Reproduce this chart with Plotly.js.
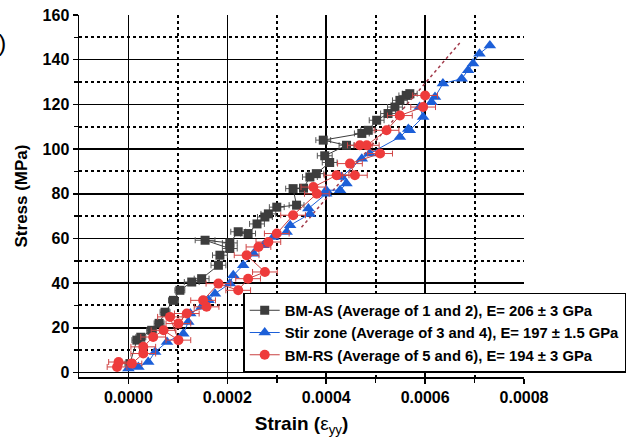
<!DOCTYPE html>
<html>
<head>
<meta charset="utf-8">
<script src="https://cdn.plot.ly/plotly-3.0.1.min.js"></script>
<style>html,body{margin:0;padding:0;background:#fff;}#chart{width:636px;height:444px;}</style>
</head>
<body>
<div id="chart"></div>
<script>
// BM-AS (black squares)
var asStrain = [0.000003,0.000017,0.000025,0.000047,0.000062,0.000074,0.000091,0.000104,0.000128,0.000148,0.000182,0.000185,0.000205,0.000155,0.000205,0.000222,0.000242,0.000260,0.000276,0.000283,0.000300,0.000340,0.000333,0.000354,0.000367,0.000380,0.000407,0.000397,0.000441,0.000394,0.000472,0.000485,0.000502,0.000525,0.000539,0.000549,0.000562,0.000569];
var asStress = [4,14.5,15.8,18.9,22,27,32.3,36.8,40.5,42,48,52.5,55.5,59.2,58,63,62.2,66.5,69.6,71,74,74.9,82.3,82.5,87.5,89,94,97,101.7,104,107,108.4,112.9,115.9,118.8,121.8,124,124.8];
var asErr = [0.00001,0.00001,0.00001,0.00001,0.00001,0.00001,0.00001,0.00001,0.000015,0.000015,0.000015,0.000015,0.000015,0.00002,0.000015,0.000015,0.000015,0.000015,0.000015,0.000015,0.000015,0.000015,0.000015,0.000015,0.000015,0.000015,0.000015,0.000015,0.000015,0.000015,0.000015,0.000015,0.000015,0.000015,0.000015,0.000015,0.000015,0.000015];

// Stir zone (blue triangles)
var szStrain = [0.000000,0.000020,0.000040,0.000054,0.000078,0.000111,0.000121,0.000125,0.000148,0.000162,0.000175,0.000205,0.000212,0.000232,0.000253,0.000273,0.000293,0.000320,0.000327,0.000367,0.000364,0.000400,0.000400,0.000428,0.000441,0.000431,0.000472,0.000488,0.000549,0.000566,0.000569,0.000596,0.000589,0.000613,0.000620,0.000636,0.000674,0.000687,0.000697,0.000710,0.000731];
var szStress = [1.8,2.5,4.7,9.2,13.7,17.4,22.6,26.4,29.4,32.3,35.3,39.8,43.5,48,53.2,57,60.7,62.9,65.9,71,73.4,80,81.6,81.6,84.6,87.5,95.7,98,105.4,109,108.4,114.4,118.8,121,123.3,129.3,131.5,135.3,138.3,142.7,146.4];

// BM-RS (red circles)
var rsStrain = [-0.000023,-0.000020,0.000007,0.000030,0.000030,0.000050,0.000071,0.000101,0.000084,0.000101,0.000118,0.000158,0.000151,0.000182,0.000222,0.000242,0.000276,0.000239,0.000263,0.000283,0.000300,0.000333,0.000381,0.000374,0.000421,0.000458,0.000448,0.000509,0.000468,0.000482,0.000522,0.000549,0.000596,0.000600];
var rsStress = [2.5,4.7,4,8.5,11.5,15.9,18.9,14.5,24.9,21.9,26.4,29.4,32.3,39.8,36.8,42,45,52.5,56.2,58.4,62.2,70.4,80,83,88.3,88.3,93.5,98,101.7,101.7,108.4,115,118.8,124];
var rsErr = [0.00002,0.00002,0.00002,0.000025,0.000025,0.000025,0.000025,0.000025,0.000025,0.000025,0.000025,0.000025,0.000025,0.000025,0.000025,0.000025,0.000025,0.000025,0.000025,0.000025,0.000025,0.000025,0.000025,0.000025,0.000025,0.000025,0.000025,0.000025,0.000025,0.000025,0.000025,0.000025,0.000025,0.000025];

// fit line (dotted)
var fitStrain = [0.00035,0.00067];
var fitStress = [65,147.5];

var xTicks = [0,0.0002,0.0004,0.0006,0.0008];
var xTickText = ['0.0000','0.0002','0.0004','0.0006','0.0008'];
var xMinor = [0.0001,0.0003,0.0005,0.0007];
var xGrid = [0,0.0002,0.0004,0.0006];
var yTicks = [0,20,40,60,80,100,120,140,160];
var yMinor = [10,30,50,70,90,110,130,150];
var yGrid = [0,20,40,60,80,100,120,140];

var black = '#3d3d3d', blue = '#1c5fd8', red = '#ee3b3b';
var FONT = 'Liberation Sans, Arial, sans-serif';

var traces = [
  {x: [], y: [], xaxis:'x2', yaxis:'y2', mode:'markers', showlegend:false, hoverinfo:'skip'},
  {x: fitStrain, y: fitStress, mode:'lines', line:{color:'#a23a4a', width:1.5, dash:'dot'}, showlegend:false, hoverinfo:'skip'},
  {x: asStrain, y: asStress, name:'BM-AS (Average of 1 and 2), E= 206 ± 3 GPa', mode:'lines+markers',
   line:{color:black, width:1}, marker:{symbol:'square', size:9, color:black},
   error_x:{type:'data', array: asErr, visible:true, color:'#555', thickness:1, width:3}},
  {x: szStrain, y: szStress, name:'Stir zone (Average of 3 and 4), E= 197 ± 1.5 GPa', mode:'lines+markers',
   line:{color:blue, width:1}, marker:{symbol:'triangle-up', size:11, color:blue}},
  {x: rsStrain, y: rsStress, name:'BM-RS (Average of 5 and 6), E= 194 ± 3 GPa', mode:'lines+markers',
   line:{color:'#c84040', width:1}, marker:{symbol:'circle', size:10, color:red},
   error_x:{type:'data', array: rsErr, visible:true, color:'#d04545', thickness:1, width:3}}
];

var layout = {
  width:636, height:444,
  margin:{l:79, r:112, t:15, b:67, autoexpand:false},
  paper_bgcolor:'#fff', plot_bgcolor:'#fff',
  font:{family:FONT, color:'#000'},
  xaxis:{
    range:[-0.0001,0.0008], tickvals:xTicks, ticktext:xTickText,
    tickfont:{size:16, family:FONT, weight:'bold'},
    ticks:'outside', ticklen:5, tickwidth:1.5, tickcolor:'#000',
    showline:true, linecolor:'#000', linewidth:1.5,
    showgrid:false, zeroline:false,
    minor:{tickvals:xMinor, ticks:'outside', ticklen:4, tickcolor:'#000', showgrid:false},
    title:{text:'<b>Strain (</b>ε<sub>yy</sub><b>)</b>', font:{size:19}, standoff:12}
  },
  yaxis:{
    range:[-2,160], tickvals:yTicks,
    tickfont:{size:16, family:FONT, weight:'bold'},
    ticks:'outside', ticklen:5, tickwidth:1.5, tickcolor:'#000',
    showline:true, linecolor:'#000', linewidth:1.5,
    showgrid:false, zeroline:false,
    minor:{tickvals:yMinor, ticks:'outside', ticklen:4, tickcolor:'#000', showgrid:false},
    title:{text:'<b>Stress (MPa)</b>', font:{size:17}, standoff:10}
  },
  xaxis2:{
    overlaying:'x', matches:'x', range:[-0.0001,0.0008], tickvals:xGrid, showticklabels:false, ticks:'',
    showline:false, zeroline:false, showgrid:true, gridcolor:'#000', gridwidth:1.5,
    minor:{tickvals:xMinor, ticks:'', showgrid:true, gridcolor:'#000', griddash:'dot', gridwidth:2}
  },
  yaxis2:{
    overlaying:'y', matches:'y', range:[-2,160], tickvals:yGrid, showticklabels:false, ticks:'',
    showline:false, zeroline:false, showgrid:true, gridcolor:'#000', gridwidth:1.5,
    minor:{tickvals:yMinor, ticks:'', showgrid:true, gridcolor:'#000', griddash:'dot', gridwidth:2}
  },
  legend:{
    x:0.369, y:0.233, xanchor:'left', yanchor:'top',
    bgcolor:'#fff', bordercolor:'#000', borderwidth:1.5,
    font:{size:14.8, family:FONT, weight:'bold'}
  },
  annotations:[
    {text:'(a)', xref:'paper', yref:'paper', x:(8-79)/445, y:(376.7-42)/362, xanchor:'right', yanchor:'middle', showarrow:false, font:{size:24, family:FONT}}
  ],
  showlegend:true
};

Plotly.newPlot('chart', traces, layout, {staticPlot:true, displayModeBar:false});
</script>
</body>
</html>
